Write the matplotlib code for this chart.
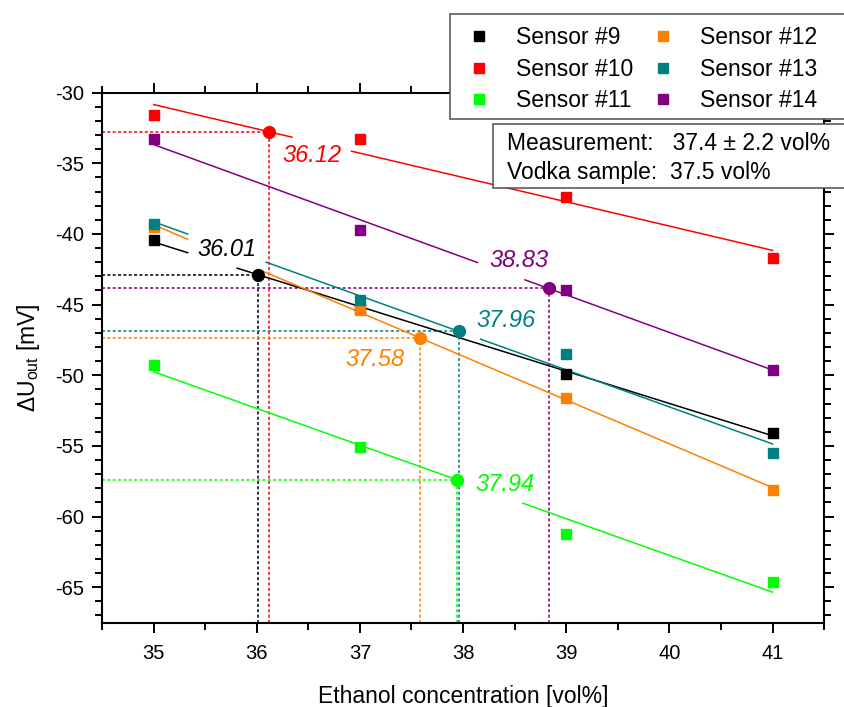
import numpy as np
import matplotlib
matplotlib.use("Agg")
import matplotlib.pyplot as plt
from matplotlib.patches import Rectangle
from matplotlib.ticker import MultipleLocator

plt.rcParams['font.family'] = ['Liberation Sans', 'DejaVu Sans']
plt.rcParams['mathtext.fontset'] = 'custom'
plt.rcParams['mathtext.rm'] = 'Liberation Sans'
plt.rcParams['mathtext.it'] = 'Liberation Sans:italic'
plt.rcParams['axes.unicode_minus'] = False

# values
conc = [35, 37, 39, 41]
sensor_names = ["Sensor #9", "Sensor #10", "Sensor #11", "Sensor #12", "Sensor #13", "Sensor #14"]
s9 = [-40.4, -45.3, -49.9, -54.1]
s10 = [-31.6, -33.3, -37.4, -41.7]
s11 = [-49.3, -55.1, -61.2, -64.6]
s12 = [-39.5, -45.4, -51.6, -58.1]
s13 = [-39.3, -44.7, -48.5, -55.5]
s14 = [-33.3, -39.7, -44.0, -49.6]
responses = [s9, s10, s11, s12, s13, s14]
measured = [36.01, 36.12, 37.94, 37.58, 37.96, 38.83]
colors = ['#000000', '#ff0000', '#00ff00', '#ff8000', '#008080', '#800080']

# where the value labels sit and where the fit lines are broken for them
label_pos = [(35.71, -41.1), (36.54, -34.45), (38.41, -57.7),
             (37.15, -48.9), (38.42, -46.1), (38.54, -41.9)]
line_gaps = [[(35.33, 35.81)], [(36.34, 36.92)], [(38.0, 38.58)],
             [(35.33, 36.03)], [(35.33, 36.09), (38.0, 38.17)], [(38.14, 38.60)]]

XMIN, XMAX = 34.5, 41.5
YMIN, YMAX = -67.5, -30

fig = plt.figure(figsize=(8.44, 7.07), dpi=100)
ax = fig.add_axes([0.1209, 0.1195, 0.8555, 0.7494])

handles = []
for i, y in enumerate(responses):
    c = colors[i]
    k, b = np.polyfit(conc, y, 1)
    # fit line, split around the label
    edges = [conc[0]]
    for g0, g1 in line_gaps[i]:
        edges += [g0, g1]
    edges.append(conc[-1])
    for x0, x1 in zip(edges[0::2], edges[1::2]):
        xs = np.array([x0, x1])
        ax.plot(xs, k * xs + b, color=c, lw=1.1, zorder=2)
    m = measured[i]
    ym = k * m + b
    ax.plot([XMIN, m], [ym, ym], color=c, lw=1.1, ls=(0, (2, 1.5)), zorder=1)
    ax.plot([m, m], [YMIN, ym], color=c, lw=1.1, ls=(0, (2, 1.5)), zorder=1)
    ax.plot(m, ym, 'o', color=c, ms=8.5, zorder=4)
    h, = ax.plot(conc, y, 's', color=c, ms=7.8, zorder=3, label=sensor_names[i])
    handles.append(h)
    ax.text(label_pos[i][0], label_pos[i][1], f"{m:.2f}", color=c, fontsize=17,
            style='italic', ha='center', va='center', zorder=5)

ax.set_xlim(XMIN, XMAX)
ax.set_ylim(YMIN, YMAX)
ax.xaxis.set_major_locator(MultipleLocator(1))
ax.xaxis.set_minor_locator(MultipleLocator(0.5))
ax.yaxis.set_major_locator(MultipleLocator(5))
ax.yaxis.set_minor_locator(MultipleLocator(1))
ax.tick_params(which='both', direction='out', top=True, right=True, width=1.4)
ax.tick_params(which='major', length=7.5, labelsize=14.5)
ax.tick_params(which='minor', length=5)
ax.tick_params(axis='x', pad=8)
ax.tick_params(axis='y', pad=5.5)
for sp in ax.spines.values():
    sp.set_linewidth(1.5)

ax.set_xlabel("Ethanol concentration [vol%]", fontsize=16.5, labelpad=16)
ax.set_ylabel(r"ΔU$_{\mathrm{out}}$ [mV]", fontsize=16.5, labelpad=9)

# legend frame running off the right edge, as in the original
fig.add_artist(Rectangle((450 / 844, 1 - 119.3 / 707), 400 / 844, 105 / 707,
                         transform=fig.transFigure, facecolor='white',
                         edgecolor='#505050', lw=1.1))
fig.legend(handles=handles, ncol=2, loc='upper left',
           bbox_to_anchor=(456 / 844, 1 - 15 / 707), frameon=False,
           fontsize=16.5, handlelength=1.0, handletextpad=1.13,
           columnspacing=0.77, labelspacing=0.36, borderpad=0)

fig.add_artist(Rectangle((493.3 / 844, 1 - 188.3 / 707), 360 / 844, 64.3 / 707,
                         transform=fig.transFigure, facecolor='white',
                         edgecolor='#505050', lw=1.1))
fig.text(506.7 / 844, 1 - 144 / 707, "Measurement:   37.4 ± 2.2 vol%",
         fontsize=16.5, va='center', ha='left')
fig.text(506.7 / 844, 1 - 172.5 / 707, "Vodka sample:  37.5 vol%",
         fontsize=16.5, va='center', ha='left')

fig.savefig("out.png", dpi=100)
